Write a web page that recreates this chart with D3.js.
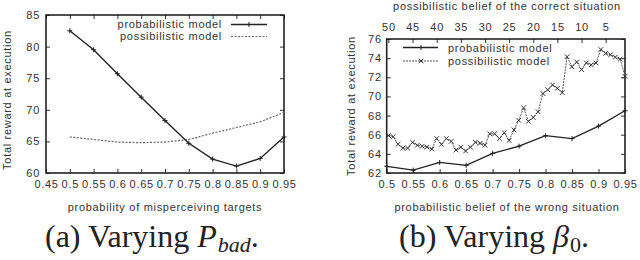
<!DOCTYPE html>
<html lang="en">
<head>
<meta charset="UTF-8">
<title>Total reward at execution</title>
<script src="https://d3js.org/d3.v7.min.js"></script>
<style>
  body { margin: 0; background: #fff; }
</style>
</head>
<body>
<svg id="chart" width="640" height="260"></svg>
<script>
// (a) varying P_bad
const pBad = [0.5, 0.55, 0.6, 0.65, 0.7, 0.75, 0.8, 0.85, 0.9, 0.95];
const probA = [82.5, 79.5, 75.7, 72.0, 68.3, 64.7, 62.2, 61.1, 62.3, 65.7];
const possA = [65.7, 65.3, 64.9, 64.8, 64.9, 65.3, 66.3, 67.2, 68.1, 69.6];
const xTicksA = [0.45, 0.5, 0.55, 0.6, 0.65, 0.7, 0.75, 0.8, 0.85, 0.9, 0.95];
const yTicksA = [60, 65, 70, 75, 80, 85];

// (b) varying beta0
const beta = [0.5, 0.55, 0.6, 0.65, 0.7, 0.75, 0.8, 0.85, 0.9, 0.95];
const probB = [62.7, 62.3, 63.1, 62.8, 64.05, 64.8, 65.9, 65.6, 66.9, 68.5];
// possibilistic belief of the correct situation, 50 down to 1
const possBelief = d3.range(50, 0, -1);
const possB = [65.9, 65.8, 65.0, 64.6, 64.6, 65.2, 64.9, 64.8, 64.7, 64.5,
               65.6, 65.0, 65.6, 65.3, 64.4, 64.7, 64.3, 64.7, 65.2, 65.1,
               64.9, 66.1, 66.1, 65.6, 66.2, 65.4, 66.5, 67.5, 68.8, 67.4,
               67.8, 68.4, 70.3, 70.7, 71.2, 70.85, 70.4, 74.15, 73.1, 73.6,
               72.8, 73.5, 73.3, 73.5, 74.9, 74.5, 74.35, 74.1, 73.9, 72.1];
const xTicksB = [0.5, 0.55, 0.6, 0.65, 0.7, 0.75, 0.8, 0.85, 0.9, 0.95];
const x2TicksB = [50, 45, 40, 35, 30, 25, 20, 15, 10, 5];
const yTicksB = [62, 64, 66, 68, 70, 72, 74, 76];

const svg = d3.select('#chart');
const fmt = d3.format('~g');
const TICK = 4;

// sans text helper: Liberation Sans, slightly spaced like the gnuplot output
function label(g, x, y, str, anchor) {
  return g.append('text').attr('x', x).attr('y', y)
    .attr('font-family', 'Liberation Sans').attr('font-size', 11)
    .attr('letter-spacing', 0.7).attr('fill', '#333')
    .attr('text-anchor', anchor || 'start').text(str);
}
function plus(g, pts, size) {
  g.selectAll(null).data(pts).enter().append('path')
    .attr('d', d => `M${d[0]-size},${d[1]}H${d[0]+size}M${d[0]},${d[1]-size}V${d[1]+size}`)
    .attr('stroke', '#222').attr('stroke-width', 1).attr('fill', 'none');
}
function cross(g, pts, size) {
  g.selectAll(null).data(pts).enter().append('path')
    .attr('d', d => `M${d[0]-size},${d[1]-size}L${d[0]+size},${d[1]+size}M${d[0]-size},${d[1]+size}L${d[0]+size},${d[1]-size}`)
    .attr('stroke', '#333').attr('stroke-width', 1).attr('fill', 'none');
}
function cleanAxis(g) {
  g.attr('font-size', 11).attr('font-family', 'Liberation Sans').attr('letter-spacing', 0.7);
  g.select('.domain').remove();
  g.selectAll('.tick line').attr('stroke', '#333');
  g.selectAll('.tick text').attr('fill', '#333');
}
// serif caption, each piece its own text element
function caption(g, x0, parts) {
  let cx = x0;
  parts.forEach(p => {
    const t = g.append('text').attr('x', cx).attr('y', 247 + (p.dy || 0))
      .attr('font-family', 'Liberation Serif').attr('font-size', p.size || 32)
      .attr('fill', '#222').text(p.text);
    if (p.italic) t.attr('font-style', 'italic');
    cx += t.node().getComputedTextLength() + (p.gap || 0);
  });
}

// ---------- panel (a) ----------
{
  const L = 46, R = 284, T = 15, B = 173;
  const x = d3.scaleLinear().domain([0.45, 0.95]).range([L, R]);
  const y = d3.scaleLinear().domain([60, 85]).range([B, T]);
  const g = svg.append('g');

  g.append('g').attr('transform', `translate(0,${B})`)
    .call(d3.axisBottom(x).tickValues(xTicksA).tickFormat(fmt).tickSize(-TICK).tickPadding(7)).call(cleanAxis);
  g.append('g').attr('transform', `translate(0,${T})`)
    .call(d3.axisTop(x).tickValues(xTicksA).tickFormat('').tickSize(-TICK)).call(cleanAxis);
  g.append('g').attr('transform', `translate(${L},0)`)
    .call(d3.axisLeft(y).tickValues(yTicksA).tickSize(-TICK).tickPadding(6)).call(cleanAxis);
  g.append('g').attr('transform', `translate(${R},0)`)
    .call(d3.axisRight(y).tickValues(yTicksA).tickFormat('').tickSize(-TICK)).call(cleanAxis);

  g.append('rect').attr('x', L).attr('y', T).attr('width', R - L).attr('height', B - T)
    .attr('fill', 'none').attr('stroke', '#222').attr('stroke-width', 1.6);

  const line = d3.line().x(d => x(d[0])).y(d => y(d[1]));
  const ptsP = pBad.map((v, i) => [v, probA[i]]);
  const ptsQ = pBad.map((v, i) => [v, possA[i]]);
  g.append('path').attr('d', line(ptsQ)).attr('fill', 'none')
    .attr('stroke', '#666').attr('stroke-width', 1.2).attr('stroke-dasharray', '2,1.5');
  g.append('path').attr('d', line(ptsP)).attr('fill', 'none')
    .attr('stroke', '#222').attr('stroke-width', 1.4);
  plus(g, ptsP.map(d => [x(d[0]), y(d[1])]), 2.5);

  // legend
  label(g, 222, 28, 'probabilistic model', 'end');
  g.append('line').attr('x1', 231).attr('x2', 267).attr('y1', 24.5).attr('y2', 24.5)
    .attr('stroke', '#222').attr('stroke-width', 1.4);
  plus(g, [[249, 24.5]], 2.5);
  label(g, 222, 40, 'possibilistic model', 'end');
  g.append('line').attr('x1', 231).attr('x2', 267).attr('y1', 36.5).attr('y2', 36.5)
    .attr('stroke', '#666').attr('stroke-width', 1.2).attr('stroke-dasharray', '2,1.5');

  label(g, 165, 211, 'probability of misperceiving targets', 'middle');
  label(g, 0, 0, 'Total reward at execution', 'middle').attr('transform', 'translate(11,100) rotate(-90)');

  caption(g, 45, [
    { text: '(a) Varying\u00a0' },
    { text: 'P', italic: true, gap: 1 },
    { text: 'bad', italic: true, size: 22, dy: 5 },
    { text: '.' }
  ]);
}

// ---------- panel (b) ----------
{
  const L = 386.7, R = 625, T = 39, B = 173;
  const x = d3.scaleLinear().domain([0.5, 0.95]).range([L, R]);
  const x2 = d3.scaleLinear().domain([50.35, 1]).range([L, R]);
  const y = d3.scaleLinear().domain([62, 76]).range([B, T]);
  const g = svg.append('g');

  g.append('g').attr('transform', `translate(0,${B})`)
    .call(d3.axisBottom(x).tickValues(xTicksB).tickFormat(fmt).tickSize(-TICK).tickPadding(7)).call(cleanAxis);
  g.append('g').attr('transform', `translate(0,${T})`)
    .call(d3.axisTop(x2).tickValues(x2TicksB).tickSize(-TICK).tickPadding(8)).call(cleanAxis);
  g.append('g').attr('transform', `translate(${L},0)`)
    .call(d3.axisLeft(y).tickValues(yTicksB).tickSize(-TICK).tickPadding(5)).call(cleanAxis);
  g.append('g').attr('transform', `translate(${R},0)`)
    .call(d3.axisRight(y).tickValues(yTicksB).tickFormat('').tickSize(-TICK)).call(cleanAxis);

  g.append('rect').attr('x', L).attr('y', T).attr('width', R - L).attr('height', B - T)
    .attr('fill', 'none').attr('stroke', '#222').attr('stroke-width', 1.6);

  const ptsP = beta.map((v, i) => [x(v), y(probB[i])]);
  const ptsQ = possBelief.map((v, i) => [x2(v), y(possB[i])]);
  const line = d3.line();
  g.append('path').attr('d', line(ptsQ)).attr('fill', 'none')
    .attr('stroke', '#555').attr('stroke-width', 1).attr('stroke-dasharray', '2,1');
  cross(g, ptsQ, 2.3);
  g.append('path').attr('d', line(ptsP)).attr('fill', 'none')
    .attr('stroke', '#222').attr('stroke-width', 1.3);
  plus(g, ptsP, 2.5);

  // legend
  g.append('line').attr('x1', 403).attr('x2', 438).attr('y1', 47.5).attr('y2', 47.5)
    .attr('stroke', '#222').attr('stroke-width', 1.3);
  plus(g, [[421, 47.5]], 2.5);
  label(g, 448, 51.5, 'probabilistic model');
  g.append('line').attr('x1', 403).attr('x2', 438).attr('y1', 61).attr('y2', 61)
    .attr('stroke', '#555').attr('stroke-width', 1).attr('stroke-dasharray', '2,1');
  cross(g, [[421, 61]], 2.3);
  label(g, 448, 65, 'possibilistic model');

  label(g, 507, 211, 'probabilistic belief of the wrong situation', 'middle');
  label(g, 507, 10, 'possibilistic belief of the correct situation', 'middle');
  label(g, 0, 0, 'Total reward at execution', 'middle').attr('transform', 'translate(355,106) rotate(-90)');

  caption(g, 399, [
    { text: '(b) Varying\u00a0' },
    { text: 'β', italic: true, gap: 1 },
    { text: '0', size: 22, dy: 5 },
    { text: '.' }
  ]);
}
</script>
</body>
</html>
